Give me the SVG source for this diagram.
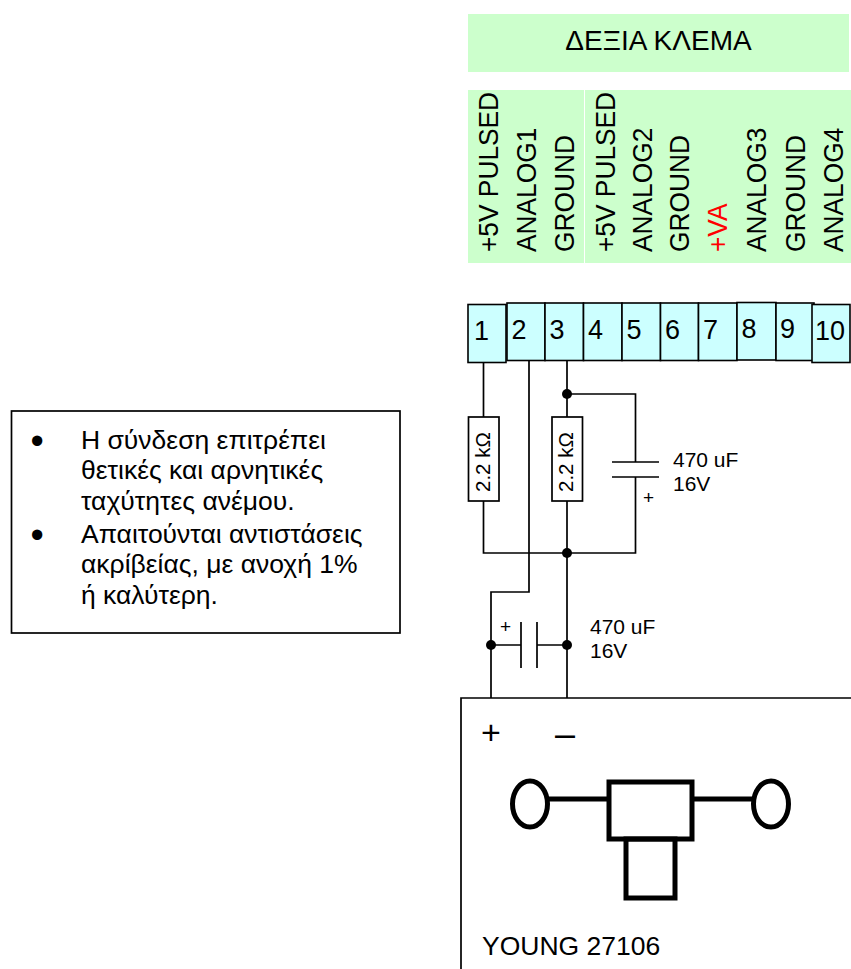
<svg xmlns="http://www.w3.org/2000/svg" width="851" height="969" viewBox="0 0 851 969">
<style>
text{font-family:"Liberation Sans",Arial,sans-serif;fill:#000}
.lab{fill:#ccffcc}
.t rect{fill:#ccffff;stroke:#000;stroke-width:1.6}
.v{font-size:28px}
.n{font-size:27px}
.w{fill:none;stroke:#000;stroke-width:1.7}
.r{fill:#fff;stroke:#000;stroke-width:1.7}
.s{fill:none;stroke:#000;stroke-width:5}
.rv{font-size:20.5px}
.c{font-size:21px}
.b{font-size:26.5px}
.d{font-size:38px}
</style>
<rect width="851" height="969" fill="#fff"/>
<g id="header"><rect class="lab" x="468" y="14" width="381" height="58"/><text x="658.5" y="50" font-size="28" text-anchor="middle">ΔΕΞΙΑ ΚΛΕΜΑ</text></g>
<g id="labels">
<rect class="lab" x="468" y="90" width="116" height="173"/><rect class="lab" x="585" y="90" width="266" height="173"/>
<text class="v" transform="translate(498 252) rotate(-90) scale(.94 1)">+5V PULSED</text>
<text class="v" transform="translate(536 252) rotate(-90) scale(.94 1)">ANALOG1</text>
<text class="v" transform="translate(574 252) rotate(-90) scale(.94 1)">GROUND</text>
<text class="v" transform="translate(615 252) rotate(-90) scale(.94 1)">+5V PULSED</text>
<text class="v" transform="translate(652 252) rotate(-90) scale(.94 1)">ANALOG2</text>
<text class="v" transform="translate(689 252) rotate(-90) scale(.94 1)">GROUND</text>
<text class="v" transform="translate(727 252) rotate(-90) scale(.94 1)" style="fill:#f00">+VA</text>
<text class="v" transform="translate(766 252) rotate(-90) scale(.94 1)">ANALOG3</text>
<text class="v" transform="translate(805 252) rotate(-90) scale(.94 1)">GROUND</text>
<text class="v" transform="translate(843 252) rotate(-90) scale(.94 1)">ANALOG4</text>
</g>
<g id="terminals" class="t">
<g id="t1"><rect x="468" y="304.5" width="38" height="58"/><text class="n" x="474" y="340">1</text></g>
<g id="t2"><rect x="507" y="303" width="38" height="57.500"/><text class="n" x="511.500" y="339">2</text></g>
<g id="t3"><rect x="545" y="303" width="38.500" height="57.500"/><text class="n" x="549.500" y="339">3</text></g>
<g id="t4"><rect x="583.500" y="303" width="38.500" height="57.500"/><text class="n" x="588" y="339">4</text></g>
<g id="t5"><rect x="622" y="303" width="38.500" height="57.500"/><text class="n" x="626.500" y="339">5</text></g>
<g id="t6"><rect x="660.500" y="303" width="38" height="57.500"/><text class="n" x="665" y="339">6</text></g>
<g id="t7"><rect x="698.500" y="303" width="38.500" height="57.500"/><text class="n" x="703" y="339">7</text></g>
<g id="t8"><rect x="737" y="302.500" width="39" height="57.500"/><text class="n" x="741.500" y="338">8</text></g>
<g id="t9"><rect x="776" y="303" width="38" height="57.500"/><text class="n" x="780" y="338">9</text></g>
<g id="t10"><rect x="812" y="304.500" width="38" height="58"/><text class="n" x="815" y="340">10</text></g>
</g>
<g id="connectors">
<path class="w" d="M483.500 362V553H635.500V477M635.500 462V394H567M567 361V698M529 361V592H491V698M491 645H521M537 645H567M612 462H659M612 477H659M521 622V668M537 622V668"/>
<circle cx="567" cy="394" r="5"/><circle cx="567" cy="553" r="5"/><circle cx="491" cy="645" r="5"/><circle cx="567" cy="645" r="5"/>
</g>
<g id="r1"><rect class="r" x="468.500" y="417" width="30.500" height="84"/><text class="rv" transform="translate(490 492) rotate(-90)">2.2 kΩ</text></g>
<g id="r2"><rect class="r" x="552" y="417" width="30.500" height="84"/><text class="rv" transform="translate(573 492) rotate(-90)">2.2 kΩ</text></g>
<g id="c1"><text class="c" x="673" y="467">470 uF</text><text class="c" x="673" y="491">16V</text><text x="643" y="504" font-size="19">+</text></g>
<g id="c2"><text class="c" x="590" y="634">470 uF</text><text class="c" x="590" y="658">16V</text><text x="500" y="633" font-size="19">+</text></g>
<g id="sensor">
<path class="w" d="M461 969V698H851"/>
<text x="481" y="744" font-size="34">+</text><text x="555" y="746" font-size="36">–</text>
<path class="s" d="M549 799H609M692 799H755"/>
<ellipse class="s" cx="530" cy="804" rx="17.500" ry="23"/><ellipse class="s" cx="771" cy="804" rx="17.500" ry="23"/>
<rect class="s" x="609" y="782" width="83" height="57"/><rect class="s" x="626" y="839" width="49" height="59"/>
<text x="482" y="955" font-size="26.500">YOUNG 27106</text>
</g>
<g id="note">
<rect class="r" x="11.500" y="411" width="388.500" height="222"/>
<text class="d" x="30.500" y="454">•</text><text class="b" x="81" y="449">Η σύνδεση επιτρέπει</text>
<text class="b" x="81" y="479">θετικές και αρνητικές</text>
<text class="b" x="81" y="510">ταχύτητες ανέμου.</text>
<text class="d" x="30.500" y="548">•</text><text class="b" x="81" y="543">Απαιτούνται αντιστάσεις</text>
<text class="b" x="81" y="573">ακρίβείας, με ανοχή 1%</text>
<text class="b" x="81" y="604">ή καλύτερη.</text>
</g>
</svg>
